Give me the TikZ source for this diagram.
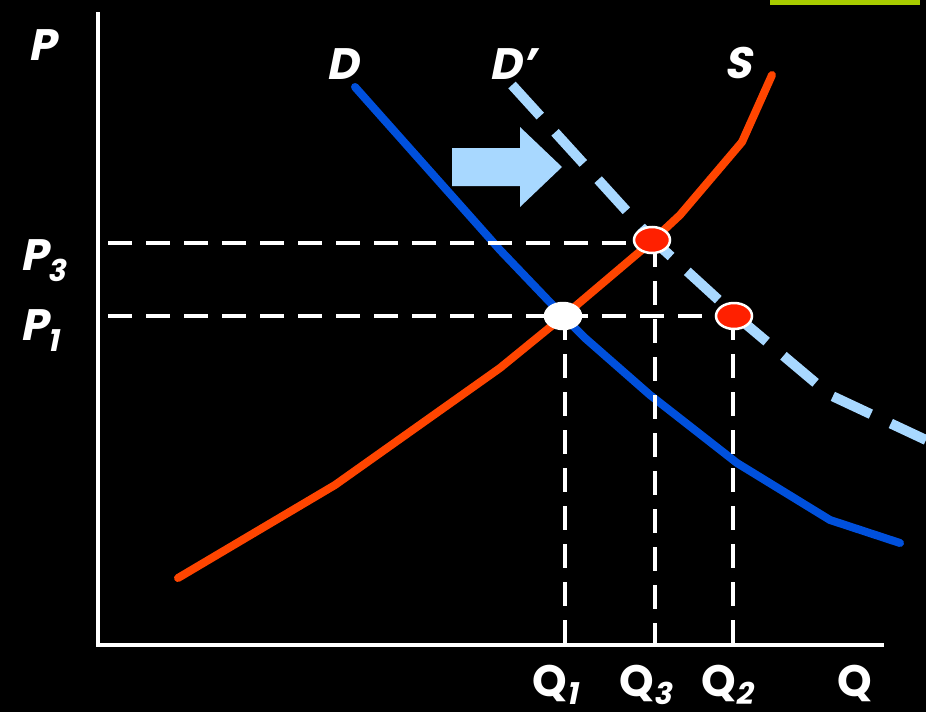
\documentclass[tikz,border=0pt]{standalone}
\usepackage{fontspec}
\usetikzlibrary{shapes.geometric}
\newfontfamily\labfont{Poppins}
\newfontfamily\labit{Poppins}[FakeSlant=0.2]
\newcommand\mysub[1]{\raisebox{-11pt}{\labit\bfseries\fontsize{30}{30}\selectfont #1}}
\newcommand\mysubq[1]{\raisebox{-8pt}{\labit\bfseries\fontsize{30}{30}\selectfont #1}}
\begin{document}
\begin{tikzpicture}[x=1pt,y=-1pt,
  axis/.style={white,line width=4},
  guide/.style={white,line width=4,dash pattern=on 24 off 14},
  dcurve/.style={color={rgb,255:red,0;green,80;blue,220},line width=8,line cap=round,line join=round},
  scurve/.style={color={rgb,255:red,255;green,69;blue,0},line width=8,line cap=round,line join=round},
  dprime/.style={color={rgb,255:red,168;green,216;blue,255},line width=10,dash pattern=on 42 off 22,line join=round},
  lab/.style={text=white,font=\labit\bfseries\fontsize{44}{44}\selectfont,inner sep=0},
  qlab/.style={text=white,font=\labfont\bfseries\fontsize{44}{44}\selectfont,inner sep=0},
  pt/.style={ellipse,draw=white,line width=2.5,minimum width=36,minimum height=26,inner sep=0}
]
\useasboundingbox (0,0) rectangle (926,712);
\fill[black] (0,0) rectangle (926,712);
\fill[color={rgb,255:red,168;green,204;blue,0}] (770,0) rectangle (920,5);
% axes
\coordinate (o) at (98,645);
\coordinate (ytop) at (98,12);
\coordinate (xend) at (884,645);
\draw[axis] (ytop) -- (o) -- (xend);
% guide end points
\coordinate (p3s) at (108,243);
\coordinate (p1s) at (108,316);
\coordinate (q1b) at (565,645);
\coordinate (q3b) at (655,645);
\coordinate (q2b) at (733,645);
\coordinate (c1) at (565,316);
\coordinate (c3) at (655,243);
\coordinate (c2) at (733,316);
% D' dashed
\draw[dprime] (512,85) -- (653,240) -- (735,315) -- (830,395) -- (926,440);
% demand
\draw[dcurve] (355,87) -- (460,205) -- (500,250) -- (565,318) -- (585,338) -- (650,395) -- (737,463) -- (830,520) -- (900,543);
% supply
\draw[scurve] (178,578) -- (335,485) -- (500,368) -- (565,315) -- (650,243) -- (680,215) -- (742,142) -- (772,75);
% guides
\draw[guide] (p3s) -- (c3);
\draw[guide] (p1s) -- (c2);
\draw[guide] (c1) -- (q1b);
\draw[guide] (c3) -- (q3b);
\draw[guide] (c2) -- (q2b);
% points
\node[pt,fill=white] (e1) at (563,316) {};
\node[pt,fill={rgb,255:red,255;green,32;blue,0}] (e3) at (652,240) {};
\node[pt,fill={rgb,255:red,255;green,32;blue,0}] (e2) at (734,316) {};
% shift arrow
\fill[color={rgb,255:red,168;green,216;blue,255}] (452,148) -- (520,148) -- (520,127) -- (562,167) -- (520,207) -- (520,186) -- (452,186) -- cycle;
% labels
\node[lab] (lp) at (42,45) {P};
\node[lab] (ld) at (342,64) {D};
\node[lab] (ldp) at (512,64) {D’};
\node[lab] (ls) at (738,63) {S};
\node[lab,anchor=base west] (lp3) at (20,270) {P\mysub{3}};
\node[lab,anchor=base west] (lp1) at (20,340) {P\mysub{1}};
\node[qlab,anchor=base west] (lq1) at (532,696) {Q\mysubq{1}};
\node[qlab,anchor=base west] (lq3) at (619,696) {Q\mysubq{3}};
\node[qlab,anchor=base west] (lq2) at (701,696) {Q\mysubq{2}};
\node[qlab,anchor=base west] (lq) at (837,696) {Q};
\end{tikzpicture}
\end{document}
